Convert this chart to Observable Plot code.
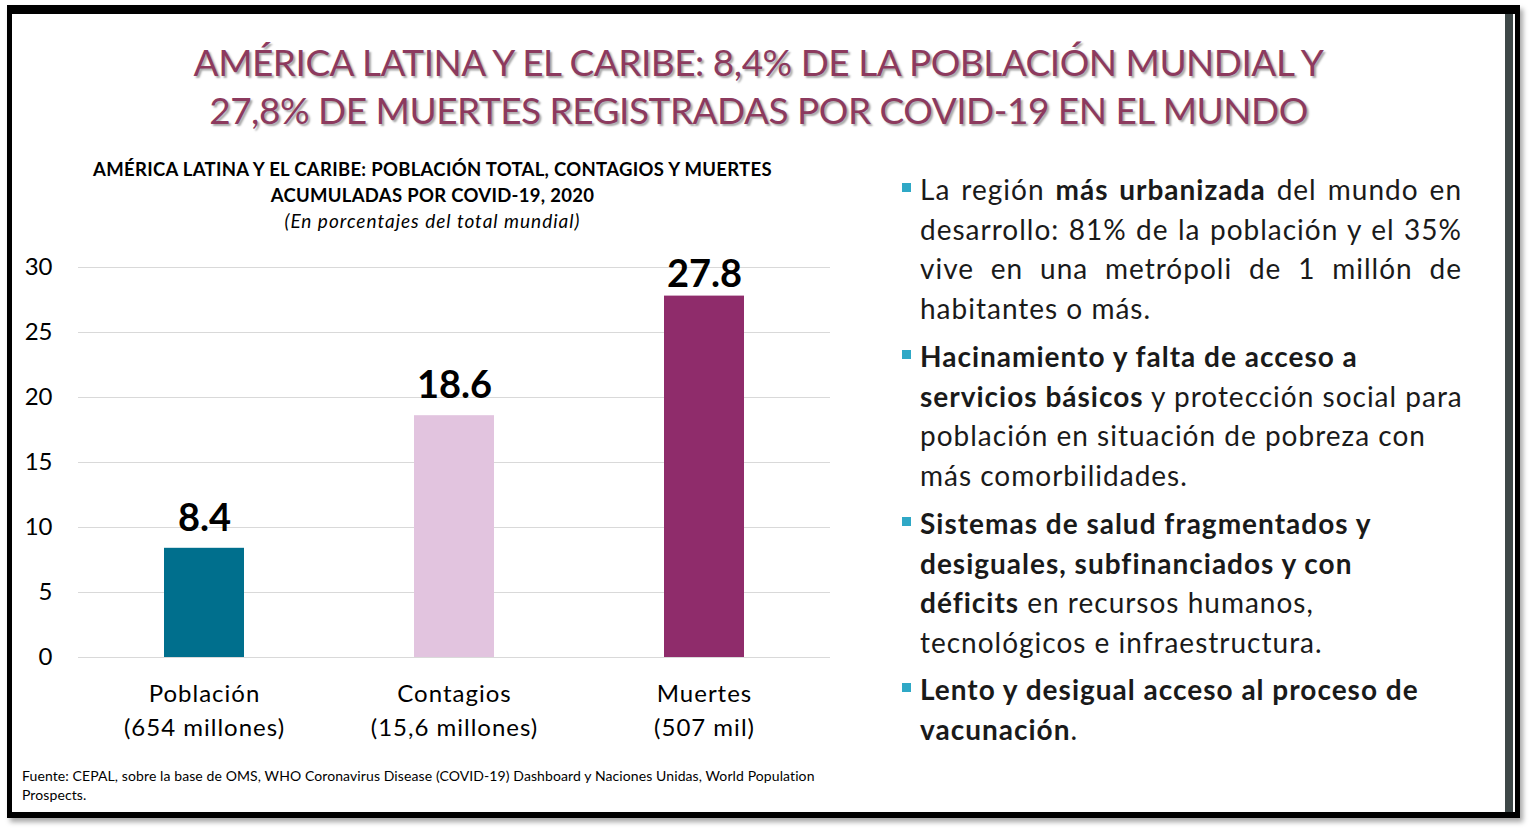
<!DOCTYPE html>
<html>
<head>
<meta charset="utf-8">
<script src="https://cdn.jsdelivr.net/npm/d3@7"></script>
<script src="https://cdn.jsdelivr.net/npm/@observablehq/plot@0.6"></script>
<style>
  html, body { margin: 0; padding: 0; background: #fff; }
  body { width: 1532px; height: 832px; position: relative; overflow: hidden; font-family: Lato, "Open Sans", sans-serif; color: #000; }
  #frame { position: absolute; left: 7px; top: 5px; width: 1503px; height: 798px; border-style: solid; border-color: #000; border-width: 9px 5px 6px 5px; box-shadow: 3px 4px 5px rgba(0,0,0,0.35); }
  #rightbar { position: absolute; left: 1505px; top: 14px; width: 8px; height: 798px; background: #3e4848; }
  #title { position: absolute; left: 12px; width: 1493px; top: 38px; text-align: center; color: #8C3A5E; font-size: 37px; line-height: 48px; text-shadow: 2px 2px 2px rgba(0,0,0,0.35); letter-spacing: -0.5px; }
  #ctitle { position: absolute; left: 40px; width: 785px; top: 156px; text-align: center; font-size: 18.5px; font-weight: bold; line-height: 26px; letter-spacing: 0.3px; }
  #ctitle .it { font-weight: normal; font-style: italic; font-size: 19px; letter-spacing: 1px; }
  #chart { position: absolute; left: 0; top: 240px; }
  #chart g[aria-label="x-axis tick label"] { letter-spacing: 1px; }
  #footer { position: absolute; left: 22px; top: 766px; font-size: 14px; line-height: 19px; color: #000; letter-spacing: 0.1px; }
  .para { position: absolute; left: 920px; width: 542px; font-size: 28px; line-height: 39.5px; color: #1a1a1a; letter-spacing: 1px; }
  .para .ln { white-space: nowrap; }
  .para .j { text-align: justify; text-align-last: justify; white-space: normal; }
  .sq { position: absolute; left: 902px; width: 9px; height: 9px; background: #2FA8C6; }
</style>
</head>
<body>
<div id="frame"></div>
<div id="rightbar"></div>
<div id="title"></div>
<div id="ctitle"></div>
<div id="chart"></div>
<div id="bullets"></div>
<div id="footer"></div>
<script>
// ---- Data ----
const titleLines = [
  "AMÉRICA LATINA Y EL CARIBE: 8,4% DE LA POBLACIÓN MUNDIAL Y",
  "27,8% DE MUERTES REGISTRADAS POR COVID-19 EN EL MUNDO"
];
const chartTitleLines = [
  "AMÉRICA LATINA Y EL CARIBE: POBLACIÓN TOTAL, CONTAGIOS Y MUERTES",
  "ACUMULADAS POR COVID-19, 2020"
];
const chartSubtitle = "(En porcentajes del total mundial)";
const categories = ["Población", "Contagios", "Muertes"];
const sublabels = ["(654 millones)", "(15,6 millones)", "(507 mil)"];
const values = [8.4, 18.6, 27.8];
const colors = ["#006F8D", "#E2C4DF", "#8F2C6B"];
const yTicks = [0, 5, 10, 15, 20, 25, 30];
const footerLines = [
  "Fuente: CEPAL, sobre la base de OMS, WHO Coronavirus Disease (COVID-19) Dashboard y Naciones Unidas, World Population",
  "Prospects."
];
// bullet paragraphs: each line is a list of [text, bold] pieces; "j" marks justified lines
const bullet1 = [
  {j: true, parts: [["La región ", false], ["más urbanizada", true], [" del mundo en", false]]},
  {j: true, parts: [["desarrollo: 81% de la población y el 35%", false]]},
  {j: true, parts: [["vive en una metrópoli de 1 millón de", false]]},
  {j: false, parts: [["habitantes o más.", false]]}
];
const bullet2 = [
  {j: false, parts: [["Hacinamiento y falta de acceso a", true]]},
  {j: false, parts: [["servicios básicos", true], [" y protección social para", false]]},
  {j: false, parts: [["población en situación de pobreza con", false]]},
  {j: false, parts: [["más comorbilidades.", false]]}
];
const bullet3 = [
  {j: false, parts: [["Sistemas de salud fragmentados y", true]]},
  {j: false, parts: [["desiguales, subfinanciados y con", true]]},
  {j: false, parts: [["déficits", true], [" en recursos humanos,", false]]},
  {j: false, parts: [["tecnológicos e infraestructura.", false]]}
];
const bullet4 = [
  {j: false, parts: [["Lento y desigual acceso al proceso de", true]]},
  {j: false, parts: [["vacunación", true], [".", false]]}
];

// ---- Text blocks ----
const title = document.getElementById("title");
titleLines.forEach(t => { const d = document.createElement("div"); d.textContent = t; title.appendChild(d); });
const ct = document.getElementById("ctitle");
chartTitleLines.forEach(t => { const d = document.createElement("div"); d.textContent = t; ct.appendChild(d); });
{ const d = document.createElement("div"); d.className = "it"; d.textContent = chartSubtitle; ct.appendChild(d); }
const ft = document.getElementById("footer");
footerLines.forEach(t => { const d = document.createElement("div"); d.textContent = t; ft.appendChild(d); });

const bulletsEl = document.getElementById("bullets");
const paraTops = [170, 337, 504, 670];
[bullet1, bullet2, bullet3, bullet4].forEach((para, pi) => {
  const p = document.createElement("div");
  p.className = "para";
  p.style.top = paraTops[pi] + "px";
  para.forEach(line => {
    const l = document.createElement("div");
    l.className = "ln" + (line.j ? " j" : "");
    line.parts.forEach(([txt, b]) => {
      const s = document.createElement(b ? "b" : "span");
      s.textContent = txt;
      l.appendChild(s);
    });
    p.appendChild(l);
  });
  bulletsEl.appendChild(p);
  const sq = document.createElement("div");
  sq.className = "sq";
  sq.style.top = (paraTops[pi] + 13) + "px";
  bulletsEl.appendChild(sq);
});

// ---- Chart ----
const data = categories.map((c, i) => ({category: c, value: values[i], sub: sublabels[i]}));
const chart = Plot.plot({
  width: 840,
  height: 517,
  marginLeft: 78,
  marginRight: 10,
  marginTop: 27,
  marginBottom: 100,
  style: {fontFamily: "Lato, sans-serif", background: "transparent", overflow: "visible", color: "#000"},
  x: {domain: categories, paddingInner: 0.68, paddingOuter: 0.34, axis: null, label: null},
  y: {domain: [0, 30], axis: null, label: null},
  color: {domain: categories, range: colors},
  marks: [
    Plot.gridY(yTicks, {stroke: "#D9D9D9", strokeOpacity: 1, strokeWidth: 1}),
    Plot.barY(data, {x: "category", y: "value", fill: "category"}),
    // labels sit above the bar, kept inside the top of the plot area
    Plot.text(data, {x: "category", y: d => Math.min(d.value + 1.35, 28.5), text: d => d.value.toFixed(1), lineAnchor: "bottom", fontSize: 38, fontWeight: "bold", fill: "#000"}),
    Plot.axisY(yTicks, {tickSize: 0, tickPadding: 26, fontSize: 24, label: null, color: "#000"}),
    Plot.axisX({tickSize: 0, tickPadding: 20, fontSize: 24, lineHeight: 1.42, label: null, color: "#000",
      tickFormat: c => c + "\n" + sublabels[categories.indexOf(c)]})
  ]
});
document.getElementById("chart").appendChild(chart);
</script>
</body>
</html>
